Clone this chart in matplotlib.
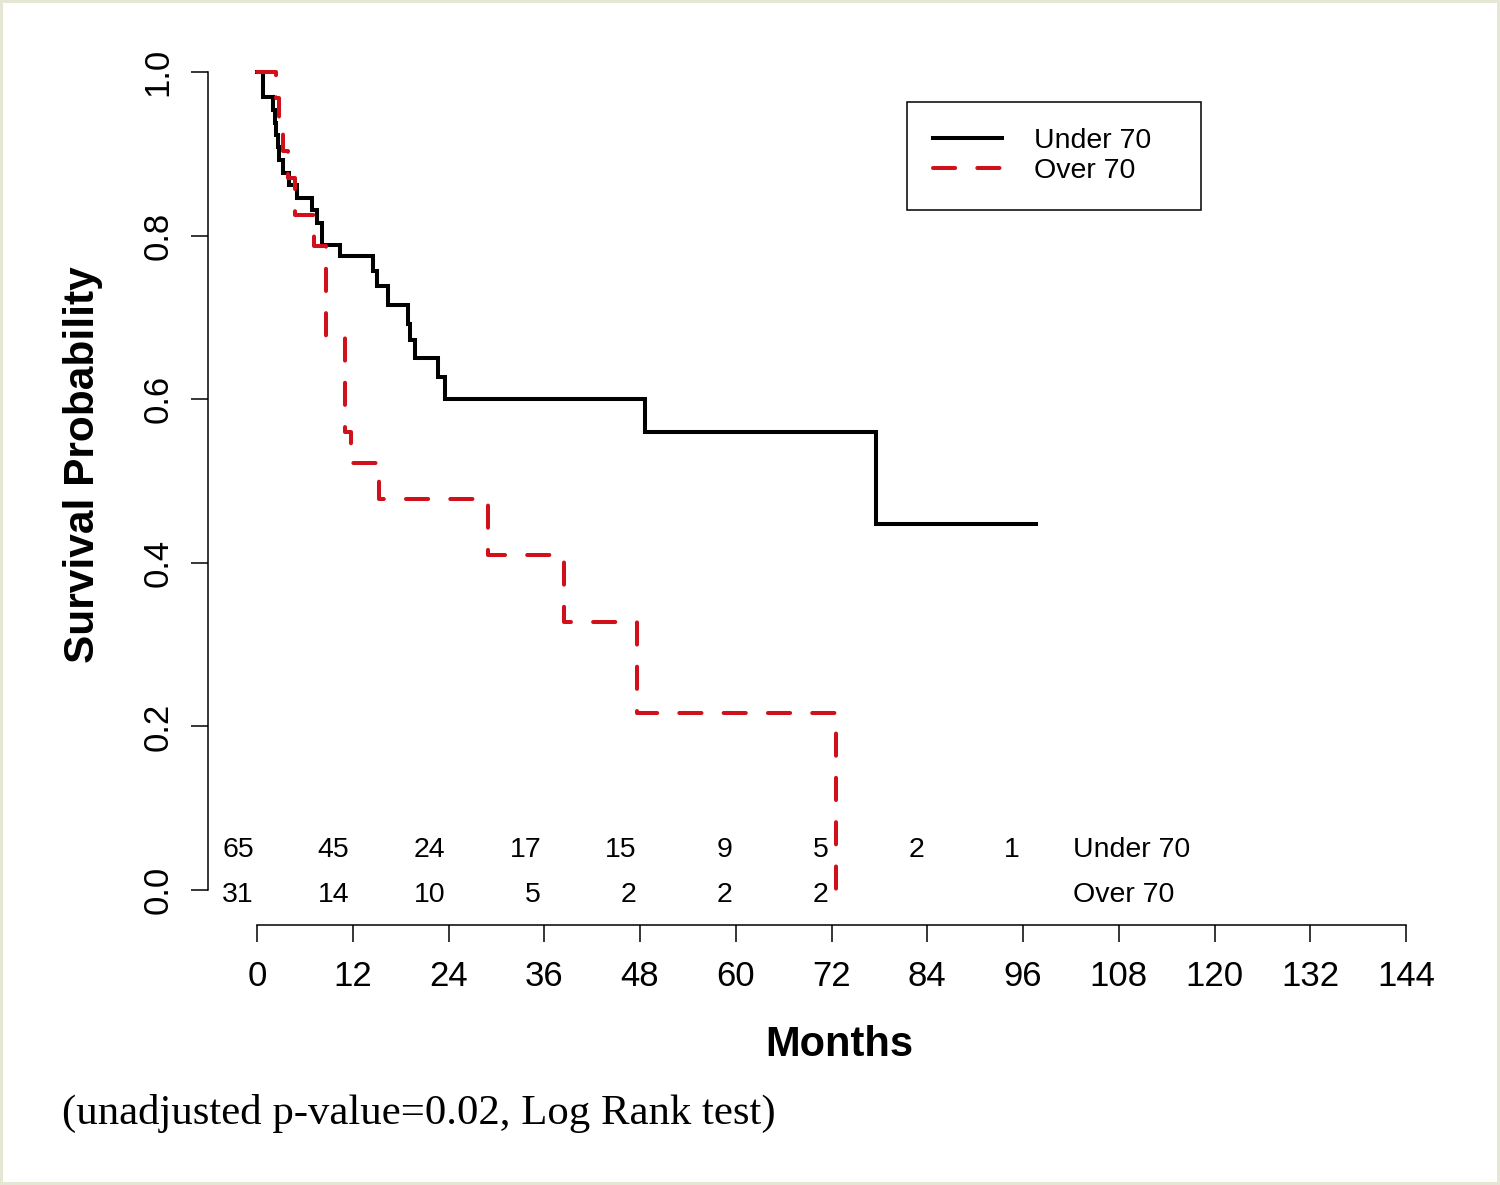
import matplotlib
matplotlib.use('Agg')
import matplotlib.pyplot as plt

plt.rcParams['font.family'] = ['Liberation Sans', 'DejaVu Sans']

# Kaplan-Meier curves (months, survival probability)
under70_months = [0, 0.7, 2.0, 2.2, 2.4, 2.6, 2.8, 3.2, 4.0, 5.0, 6.9, 7.5, 8.1,
                  10.4, 14.5, 15.0, 16.4, 18.9, 19.2, 19.8, 22.7, 23.6, 48.6, 77.6, 97.6]
under70_surv = [1.0, 0.969, 0.954, 0.938, 0.923, 0.908, 0.892, 0.877, 0.862, 0.846,
                0.831, 0.815, 0.788, 0.775, 0.757, 0.738, 0.715, 0.692, 0.672, 0.650,
                0.627, 0.600, 0.560, 0.447, 0.447]

over70_months = [0, 2.4, 2.8, 3.2, 3.9, 4.8, 7.2, 8.6, 11.0, 11.8, 15.3, 29.0, 38.5, 47.6, 72.6]
over70_surv = [1.0, 0.968, 0.935, 0.903, 0.870, 0.825, 0.787, 0.675, 0.560, 0.522,
               0.478, 0.410, 0.328, 0.216, 0.0]

# numbers at risk
risk_months = [0, 12, 24, 36, 48, 60, 72, 84, 96]
under70_risk = [65, 45, 24, 17, 15, 9, 5, 2, 1]
over70_risk = [31, 14, 10, 5, 2, 2, 2]

x_ticks = list(range(0, 145, 12))
y_ticks = [0.0, 0.2, 0.4, 0.6, 0.8, 1.0]

red = '#d0101a'

fig = plt.figure(figsize=(15, 11.85), dpi=100)
fig.patch.set_edgecolor('#e6e6d4')
fig.patch.set_linewidth(3)

ax = fig.add_axes([257 / 1500, 1 - 890 / 1185, 1149 / 1500, 818 / 1185])
ax.set_xlim(0, 144)
ax.set_ylim(0, 1)

ax.step(under70_months, under70_surv, where='post', color='black', lw=2.9,
        label='Under 70', clip_on=False, solid_joinstyle='miter')
ax.step(over70_months, over70_surv, where='post', color=red, lw=2.9,
        dashes=(5.5, 5.5), dash_capstyle='round', label='Over 70', clip_on=False)

# R-style detached axes
for side in ['top', 'right']:
    ax.spines[side].set_visible(False)
ax.spines['left'].set_position(('outward', 35.3))
ax.spines['bottom'].set_position(('outward', 25.2))
for side in ['left', 'bottom']:
    ax.spines[side].set_linewidth(1.1)

ax.set_xticks(x_ticks)
ax.set_xticklabels([str(t) for t in x_ticks])
ax.set_yticks(y_ticks)
ax.set_yticklabels(['%.1f' % v for v in y_ticks], rotation=90, va='center')
ax.tick_params(axis='both', direction='out', length=12, width=1.1, labelsize=25)
ax.tick_params(axis='x', pad=13)
ax.tick_params(axis='y', pad=12)

# risk table
row_u, row_o = 0.049, -0.006
for m, n in zip(risk_months, under70_risk):
    ax.text(m - 0.4, row_u, str(n), ha='right', va='center', fontsize=20.5)
for m, n in zip(risk_months, over70_risk):
    ax.text(m - 0.4, row_o, str(n), ha='right', va='center', fontsize=20.5)
ax.text(102.3, row_u, 'Under 70', ha='left', va='center', fontsize=20.5)
ax.text(102.3, row_o, 'Over 70', ha='left', va='center', fontsize=20.5)

leg = ax.legend(loc='upper left', mode='expand',
                bbox_to_anchor=(907 / 1500, 1 - 207 / 1185, 294 / 1500, 105 / 1185),
                bbox_transform=fig.transFigure, borderaxespad=0,
                fontsize=20.5, handlelength=2.45, handletextpad=1.1,
                labelspacing=0.15, borderpad=0.9, fancybox=False,
                framealpha=1, edgecolor='black')
leg.get_frame().set_linewidth(1.1)

fig.text(839 / 1500, 1 - 1045 / 1185, 'Months', ha='center', va='center',
         fontsize=30, fontweight='bold')
fig.text(83 / 1500, 1 - 465 / 1185, 'Survival Probability', rotation=90,
         ha='center', va='center', fontsize=30.5, fontweight='bold')
fig.text(62 / 1500, 1 - 1113 / 1185, '(unadjusted p-value=0.02, Log Rank test)',
         ha='left', va='center', fontsize=30.8, family=['Liberation Serif', 'DejaVu Serif'])

fig.savefig('out.png', dpi=100)
